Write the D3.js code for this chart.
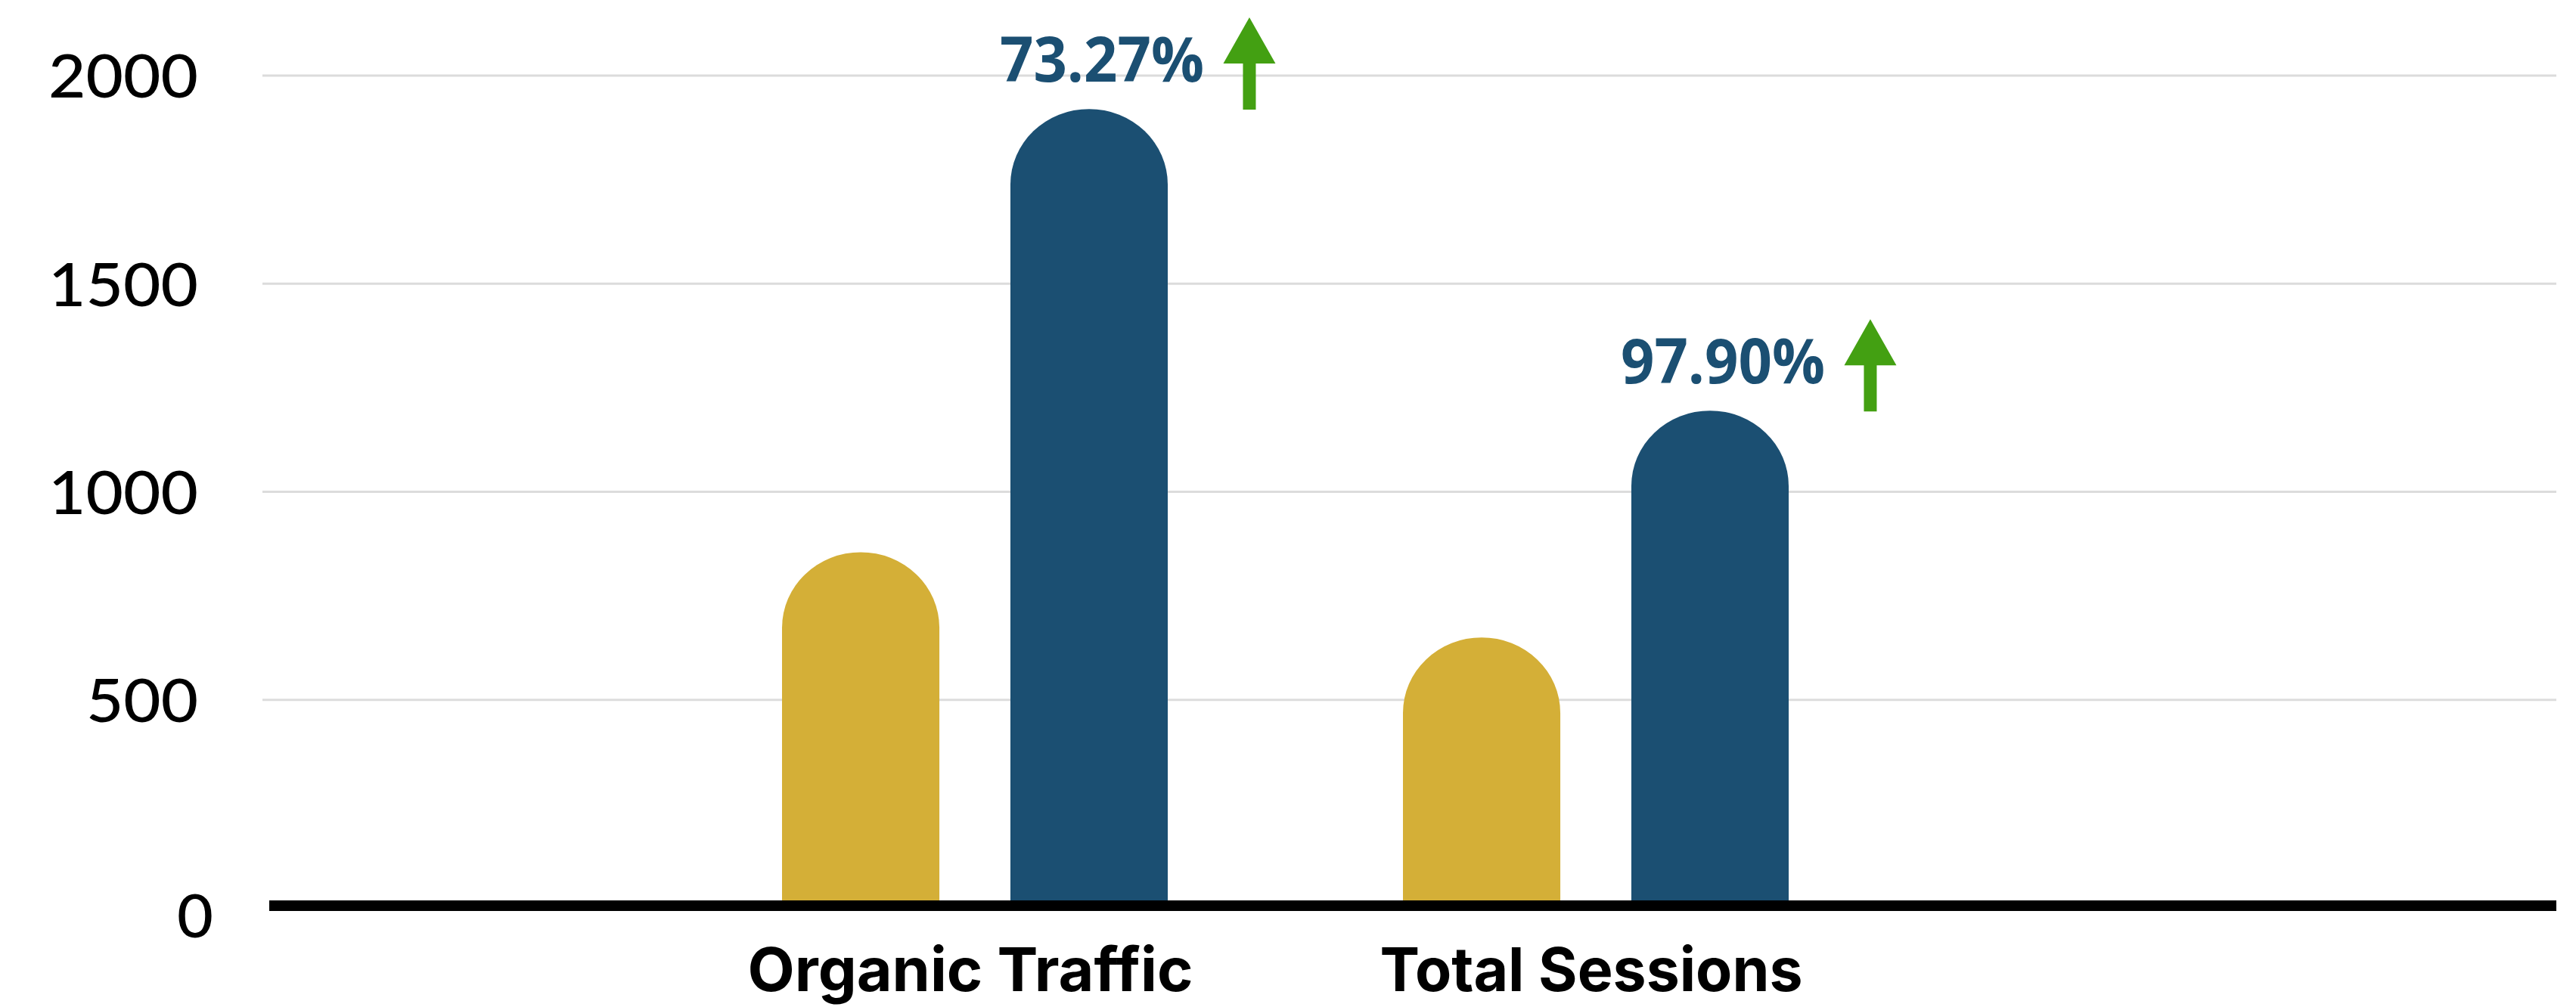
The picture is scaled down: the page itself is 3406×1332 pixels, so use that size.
<!DOCTYPE html>
<html>
<head>
<meta charset="utf-8">
<script src="https://cdn.jsdelivr.net/npm/d3@7"></script>
<style>
  html, body { margin: 0; padding: 0; background: #ffffff; }
  svg { display: block; }
</style>
</head>
<body>
<svg id="chart" width="3406" height="1332"></svg>
<script>
// ---- data ----
const categories = ["Organic Traffic", "Total Sessions"];
const seriesNames = ["Previous", "Current"];
const previousValues = [855, 650];
const currentValues = [1920, 1195];
const changeLabels = ["73.27%", "97.90%"];
const yTickValues = [0, 500, 1000, 1500, 2000];

const seriesColors = { "Previous": "#d4af37", "Current": "#1b4f72" };

const W = 3406, H = 1332;
const svg = d3.select("#chart");

// scales
const y = d3.scaleLinear().domain([0, 2000]).range([1201, 100]);
const x = d3.scaleBand().domain(categories).range([878.5, 2520.5]).paddingInner(0).paddingOuter(0);
const xSub = d3.scaleBand().domain(seriesNames).range([0, x.bandwidth()])
  .paddingInner(0.311).paddingOuter(0.515);

// gridlines
const grid = svg.append("g").attr("class", "grid");
grid.selectAll("line").data(yTickValues.filter(v => v > 0)).join("line")
  .attr("x1", 347).attr("x2", 3380)
  .attr("y1", d => y(d)).attr("y2", d => y(d))
  .attr("stroke", "#dcdcdc").attr("stroke-width", 3);

// y axis labels
const yAxis = d3.axisLeft(y).tickValues(yTickValues).tickSize(0).tickPadding(0).tickFormat(d3.format("d"));
const yg = svg.append("g").attr("transform", "translate(262,0)").call(yAxis);
yg.select(".domain").remove();
yg.selectAll("text")
  .attr("font-family", "Lato, 'Noto Sans', sans-serif")
  .attr("font-weight", 500)
  .attr("font-size", 80)
  .attr("fill", "#000")
  .attr("dy", "0.36em")
  .attr("textLength", d => String(d).length * 50 - 2)
  .attr("lengthAdjust", "spacingAndGlyphs");
// zero label sits slightly lower/right
yg.selectAll(".tick").filter(d => d === 0).select("text")
  .attr("x", 20).attr("dy", "0.48em");

// bars with rounded tops
const rows = [];
categories.forEach((c, i) => {
  rows.push({ cat: c, series: "Previous", value: previousValues[i], idx: i });
  rows.push({ cat: c, series: "Current", value: currentValues[i], idx: i });
});

function roundedTopBar(x0, w, yTop, yBottom) {
  const rx = w / 2;
  const ry = Math.min(w * 0.48, yBottom - yTop);
  return `M${x0},${yBottom} L${x0},${yTop + ry} A${rx},${ry} 0 0 1 ${x0 + w},${yTop + ry} L${x0 + w},${yBottom} Z`;
}

svg.append("g").attr("class", "bars")
  .selectAll("path").data(rows).join("path")
  .attr("d", d => roundedTopBar(x(d.cat) + xSub(d.series), xSub.bandwidth(), y(d.value), y(0)))
  .attr("fill", d => seriesColors[d.series]);

// x axis baseline
svg.append("line")
  .attr("x1", 356).attr("x2", 3380)
  .attr("y1", y(0) - 3).attr("y2", y(0) - 3)
  .attr("stroke", "#000").attr("stroke-width", 14);

// x axis labels
svg.append("g").selectAll("text").data(categories).join("text")
  .attr("x", d => x(d) + x.bandwidth() / 2 - 6)
  .attr("y", 1311)
  .attr("text-anchor", "middle")
  .attr("font-family", "Inter, 'Open Sans', sans-serif")
  .attr("font-weight", 700)
  .attr("font-size", 80)
  .attr("fill", "#000")
  .attr("textLength", d => d === "Organic Traffic" ? 589 : 559)
  .attr("lengthAdjust", "spacingAndGlyphs")
  .text(d => d);

// change labels + arrows on current bars
const changeG = svg.append("g").selectAll("g").data(categories).join("g")
  .attr("transform", (d, i) => {
    const lx = x(d) + xSub("Current") - 14;
    const ly = y(currentValues[i]) - 36;
    return `translate(${lx},${ly})`;
  });

changeG.append("text")
  .attr("x", 0).attr("y", 0)
  .attr("font-family", "'Open Sans', Lato, sans-serif")
  .attr("font-weight", 700)
  .attr("font-size", 83)
  .attr("fill", "#1b4f72")
  .attr("textLength", 270)
  .attr("lengthAdjust", "spacingAndGlyphs")
  .text((d, i) => changeLabels[i]);

changeG.append("path")
  .attr("d", "M330,-85 L364.5,-24 L338.5,-24 L338.5,37 L321.5,37 L321.5,-24 L295.5,-24 Z")
  .attr("fill", "#43a012");
</script>
</body>
</html>
